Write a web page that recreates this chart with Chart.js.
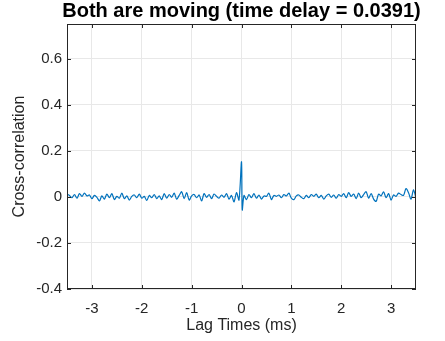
<!DOCTYPE html>
<html>
<head>
<meta charset="utf-8">
<script src="https://cdn.jsdelivr.net/npm/chart.js@4/dist/chart.umd.min.js"></script>
<style>
  html, body { margin: 0; padding: 0; background: #fff; }
  #wrap { width: 445px; height: 341px; position: relative; }
</style>
</head>
<body>
<div id="wrap"><canvas id="xcorr"></canvas></div>
<script>
// ============================================
// Data
// ============================================
const lagStart = -3.5;
const lagStep = 0.05;

// cross-correlation values for lags -3.50 ... -0.05
const corrNeg = [
    0.012, 0.006, -0.004, 0.010, -0.006, 0.014, 0.002, 0.016, 0.004, 0.008,
    -0.008, 0.006, -0.002, -0.018, 0.004, -0.010, 0.012, -0.004, 0.014, -0.012,
    0.002, -0.006, 0.016, -0.008, 0.004, -0.014, 0.002, 0.008, -0.004, 0.012,
    -0.006, 0.002, -0.016, 0.006, -0.004, 0.010, -0.008, 0.004, -0.012, 0.014,
    -0.006, 0.010, -0.002, 0.016, -0.010, 0.006, 0.022, -0.008, 0.018, -0.014,
    0.004, 0.010, -0.004, 0.008, -0.018, 0.014, -0.002, 0.010, -0.008, 0.012,
    0.002, -0.006, 0.008, -0.002, 0.014, -0.010, 0.006, -0.022, 0.018, -0.014
];
// the peak at zero lag
const peakLags = [0, 0.015];
const peakVals = [0.152, -0.057];
// cross-correlation values for lags 0.05 ... 3.50
const corrPos = [
    0.006, -0.012, 0.010, -0.004, 0.014, -0.006, 0.008, -0.010, 0.004, 0.002,
    0.016, -0.012, 0.006, 0.002, 0.008, -0.004, 0.010, 0.004, 0.016, -0.006,
    -0.012, 0.004, 0.008, -0.002, -0.008, 0.006, -0.004, 0.010, 0.002, 0.012,
    -0.004, 0.006, -0.010, 0.004, 0.012, -0.002, 0.008, -0.006, 0.010, 0.002,
    0.014, -0.004, 0.018, 0.002, 0.012, -0.008, 0.016, -0.004, 0.010, 0.022,
    -0.006, 0.014, -0.010, -0.020, 0.012, 0.004, 0.022, -0.004, 0.014, -0.014,
    0.008, 0.002, 0.016, 0.010, 0.006, 0.036, 0.018, -0.010, 0.030, -0.006
];

const xTicks = [-3, -2, -1, 0, 1, 2, 3];
const yTicks = [-0.4, -0.2, 0, 0.2, 0.4, 0.6];
const xRange = [-3.5, 3.5];
const yRange = [-0.4, 0.75];

// build point list
const points = [];
corrNeg.forEach((v, i) => points.push({ x: lagStart + i * lagStep, y: v }));
peakLags.forEach((l, i) => points.push({ x: l, y: peakVals[i] }));
corrPos.forEach((v, i) => points.push({ x: (i + 1) * lagStep, y: v }));

const FONT = '"Liberation Sans", Arial, sans-serif';
const AXIS_COLOR = '#262626';

// ============================================
// Title + MATLAB style box with inner ticks
// ============================================
const boxPlugin = {
    id: 'matlabBox',
    afterDraw(chart) {
        const { ctx, chartArea: a, scales } = chart;
        ctx.save();
        ctx.strokeStyle = AXIS_COLOR;
        ctx.lineWidth = 1;
        ctx.strokeRect(Math.round(a.left) + 0.5, Math.round(a.top) + 0.5,
            Math.round(a.right - a.left) - 1, Math.round(a.bottom - a.top) - 1);
        ctx.beginPath();
        const tl = 4;
        xTicks.forEach(t => {
            const px = Math.round(scales.x.getPixelForValue(t)) + 0.5;
            ctx.moveTo(px, a.bottom); ctx.lineTo(px, a.bottom - tl);
            ctx.moveTo(px, a.top); ctx.lineTo(px, a.top + tl);
        });
        yTicks.forEach(t => {
            const py = Math.round(scales.y.getPixelForValue(t)) + 0.5;
            ctx.moveTo(a.left, py); ctx.lineTo(a.left + tl, py);
            ctx.moveTo(a.right, py); ctx.lineTo(a.right - tl, py);
        });
        ctx.stroke();

        ctx.fillStyle = '#000';
        ctx.font = 'bold 20px ' + FONT;
        ctx.textAlign = 'center';
        ctx.textBaseline = 'middle';
        ctx.fillText('Both are moving (time delay = 0.0391)', (a.left + a.right) / 2, 11);
        ctx.restore();
    }
};

new Chart(document.getElementById('xcorr'), {
    type: 'line',
    data: {
        datasets: [{
            data: points,
            borderColor: '#0072BD',
            borderWidth: 1.2,
            pointRadius: 0,
            tension: 0.3,
            fill: false
        }]
    },
    options: {
        responsive: true,
        maintainAspectRatio: false,
        animation: false,
        layout: { padding: { top: 24, right: 29, left: 0, bottom: 0 } },
        plugins: {
            legend: { display: false },
            tooltip: { enabled: false }
        },
        scales: {
            x: {
                type: 'linear',
                min: xRange[0],
                max: xRange[1],
                afterBuildTicks: s => { s.ticks = xTicks.map(v => ({ value: v })); },
                afterFit: s => { s.height = 52; },
                grid: { color: '#e8e8e8', drawTicks: false },
                border: { display: false },
                ticks: {
                    padding: 11,
                    color: AXIS_COLOR,
                    font: { family: FONT, size: 15 },
                    maxRotation: 0
                },
                title: {
                    display: true,
                    text: 'Lag Times (ms)',
                    color: AXIS_COLOR,
                    font: { family: FONT, size: 16 },
                    padding: { top: 6, bottom: 6 }
                }
            },
            y: {
                min: yRange[0],
                max: yRange[1],
                afterBuildTicks: s => { s.ticks = yTicks.map(v => ({ value: v })); },
                afterFit: s => { s.width = 67; },
                grid: { color: '#e8e8e8', drawTicks: false },
                border: { display: false },
                ticks: {
                    padding: 5,
                    color: AXIS_COLOR,
                    font: { family: FONT, size: 15 },
                    callback: v => String(Math.round(v * 10) / 10)
                },
                title: {
                    display: true,
                    text: 'Cross-correlation',
                    color: AXIS_COLOR,
                    font: { family: FONT, size: 16 },
                    padding: { top: 10, bottom: 10 }
                }
            }
        }
    },
    plugins: [boxPlugin]
});
</script>
</body>
</html>
